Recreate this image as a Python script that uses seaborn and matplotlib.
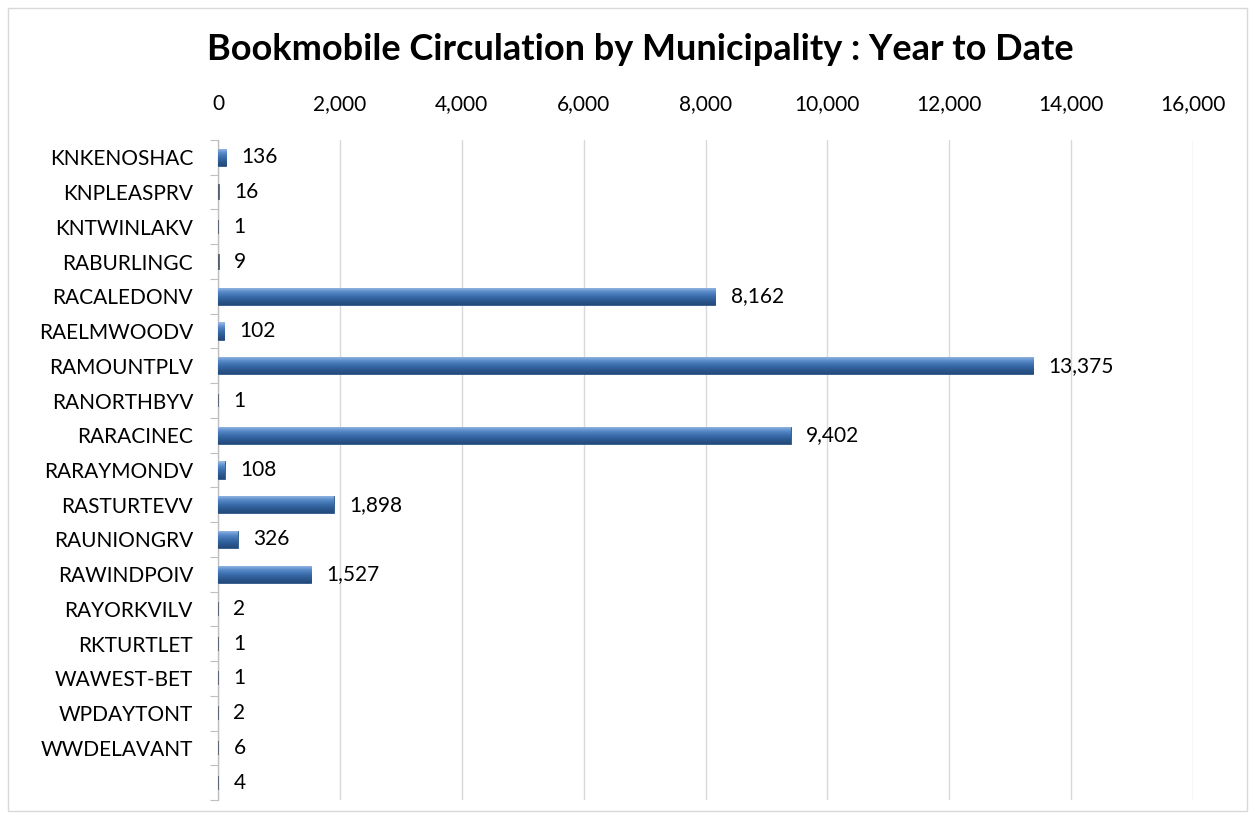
import matplotlib
matplotlib.use("Agg")
import matplotlib.pyplot as plt
import matplotlib.patches as mpatches
import numpy as np
import pandas as pd
import seaborn as sns
from matplotlib.colors import LinearSegmentedColormap

title = "Bookmobile Circulation by Municipality : Year to Date"
municipalities = ["KNKENOSHAC", "KNPLEASPRV", "KNTWINLAKV", "RABURLINGC", "RACALEDONV",
                  "RAELMWOODV", "RAMOUNTPLV", "RANORTHBYV", "RARACINEC", "RARAYMONDV",
                  "RASTURTEVV", "RAUNIONGRV", "RAWINDPOIV", "RAYORKVILV", "RKTURTLET",
                  "WAWEST-BET", "WPDAYTONT", "WWDELAVANT", " "]
circulation = [136, 16, 1, 9, 8162, 102, 13375, 1, 9402, 108, 1898, 326, 1527, 2, 1, 1, 2, 6, 4]
x_ticks = [0, 2000, 4000, 6000, 8000, 10000, 12000, 14000, 16000]

df = pd.DataFrame({"Municipality": municipalities, "Circulation": circulation})

sns.set_theme(style="white")
plt.rcParams['font.family'] = ['Lato', 'DejaVu Sans']

fig = plt.figure(figsize=(12.55, 8.19), dpi=100)
ax = fig.add_axes([218/1255, 1 - 800/819, (1193-218)/1255, (800-140)/819])

sns.barplot(data=df, y="Municipality", x="Circulation", orient="h", ax=ax,
            color="#3d70b0", width=0.5, edgecolor="#2b5588", linewidth=0.6,
            saturation=1)

# gradient overlay for a bevelled look
cmap = LinearSegmentedColormap.from_list("bev", ["#9dbde6", "#5b8cca", "#3c6fae", "#2c5a92", "#24497a"])
grad = np.linspace(0, 1, 64).reshape(-1, 1)
for p in ax.patches:
    x0, y0 = p.get_x(), p.get_y()
    w, h = p.get_width(), p.get_height()
    p.set_zorder(3)
    if w < 60:
        # very small bars render as a thin dark stroke
        p.set_linewidth(1.3)
        p.set_edgecolor("#56606e")
        p.set_facecolor("#56606e")
        p.set_height(h * 0.8)
        p.set_y(y0 + h * 0.1)
        continue
    im = ax.imshow(grad, cmap=cmap, aspect="auto", extent=(x0, x0 + w, y0 + h, y0),
                   origin="upper", zorder=3.1, interpolation="bilinear")
    im.set_clip_path(p)

ax.set_xlim(0, 16000)
ax.set_ylim(len(municipalities) - 0.5, -0.5)
ax.set_xticks(x_ticks)
ax.set_xticklabels([f"{v:,}" for v in x_ticks])
ax.xaxis.tick_top()
ax.tick_params(axis="x", length=0, pad=19, labelsize=15, colors="#000000")
ax.set_xlabel("")
ax.set_ylabel("")

ax.set_yticks(range(len(municipalities)))
ax.set_yticklabels(municipalities)
ax.set_yticks(np.arange(-0.5, len(municipalities), 1), minor=True)
ax.tick_params(axis="y", which="major", length=0, pad=18, labelsize=15, colors="#000000")
ax.tick_params(axis="y", which="minor", length=6, width=0.8, color="#bfbfbf", left=True)

ax.grid(axis="x", color="#d9d9d9", linewidth=1)
ax.set_axisbelow(True)
for s in ["top", "right", "bottom"]:
    ax.spines[s].set_visible(False)
ax.spines["left"].set_color("#bfbfbf")
ax.spines["left"].set_linewidth(1)

ax.bar_label(ax.containers[0], labels=[f"{v:,}" for v in circulation], padding=11,
             fontsize=15, color="#000000")

fig.text(640/1255, 1 - 50/819, title, ha="center", va="center", fontsize=26,
         fontweight="bold", color="#000000")

fig.patches.append(mpatches.Rectangle((8/1255, 8/819), 1239/1255, 803/819,
                                      transform=fig.transFigure, fill=False,
                                      edgecolor="#d9d9d9", linewidth=1))

fig.savefig("out.png", dpi=100)
